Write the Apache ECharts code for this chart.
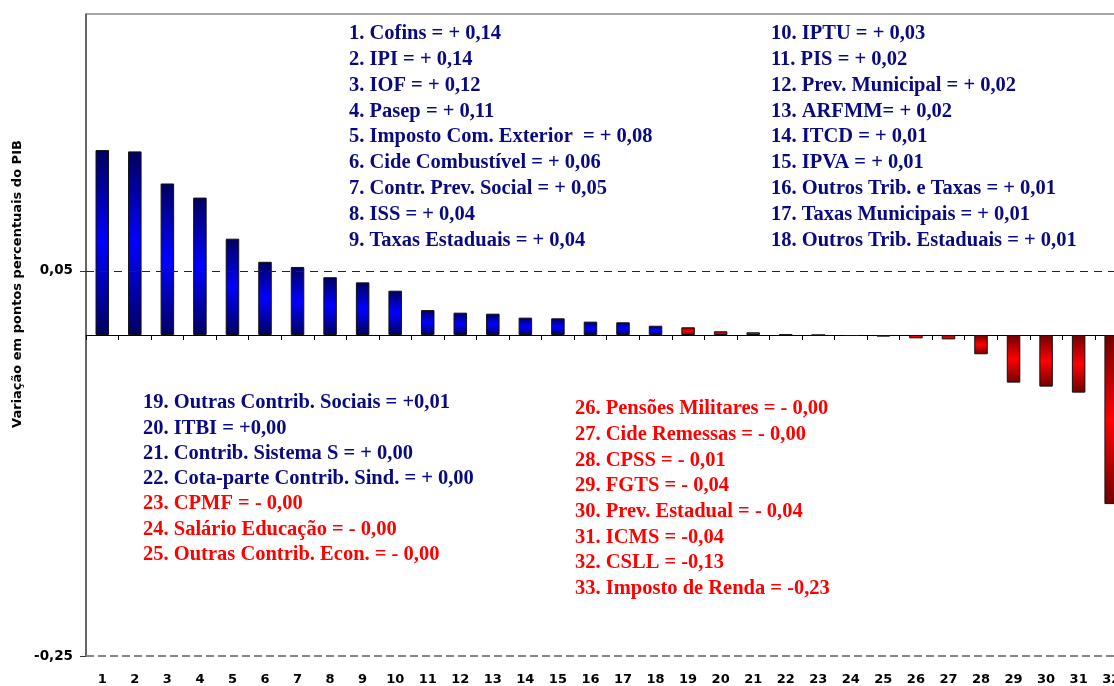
<!DOCTYPE html>
<html>
<head>
<meta charset="utf-8">
<script src="https://cdn.jsdelivr.net/npm/echarts@6/dist/echarts.min.js"></script>
<style>
html,body{margin:0;padding:0;background:#fff;}
#c{width:1114px;height:686px;}
</style>
</head>
<body>
<div id="c"></div>
<script>
// ---- data ----
const categories = ['1','2','3','4','5','6','7','8','9','10','11','12','13','14','15','16','17','18','19','20','21','22','23','24','25','26','27','28','29','30','31','32','33'];
const values = [0.144,0.143,0.118,0.107,0.075,0.057,0.053,0.045,0.041,0.0345,0.0194,0.0174,0.0166,0.0135,0.013,0.0104,0.0099,0.0072,0.006,0.0029,0.0021,0.0004,0,-0.0008,-0.0013,-0.0026,-0.0034,-0.015,-0.0371,-0.0402,-0.0449,-0.1317,-0.23];
const yTickValues = [-0.25, 0.05];
const notesTop1 = ['1. Cofins = + 0,14','2. IPI = + 0,14','3. IOF = + 0,12','4. Pasep = + 0,11','5. Imposto Com. Exterior  = + 0,08','6. Cide Combustível = + 0,06','7. Contr. Prev. Social = + 0,05','8. ISS = + 0,04','9. Taxas Estaduais = + 0,04'];
const notesTop2 = ['10. IPTU = + 0,03','11. PIS = + 0,02','12. Prev. Municipal = + 0,02','13. ARFMM= + 0,02','14. ITCD = + 0,01','15. IPVA = + 0,01','16. Outros Trib. e Taxas = + 0,01','17. Taxas Municipais = + 0,01','18. Outros Trib. Estaduais = + 0,01'];
const notesBottom1 = ['19. Outras Contrib. Sociais = +0,01','20. ITBI = +0,00','21. Contrib. Sistema S = + 0,00','22. Cota-parte Contrib. Sind. = + 0,00','23. CPMF = - 0,00','24. Salário Educação = - 0,00','25. Outras Contrib. Econ. = - 0,00'];
const notesBottom2 = ['26. Pensões Militares = - 0,00','27. Cide Remessas = - 0,00','28. CPSS = - 0,01','29. FGTS = - 0,04','30. Prev. Estadual = - 0,04','31. ICMS = -0,04','32. CSLL = -0,13','33. Imposto de Renda = -0,23'];
const yAxisTitle = 'Variação em pontos percentuais do PIB';

// ---- styles ----
const BLUE_COUNT = 18;      // bars 1..18 drawn blue, rest red
const NAVY_TEXT_MAX = 22;   // note items 1..22 navy, rest red
const navy = '#0a0a80', red = '#ff0000';
const blueGrad = new echarts.graphic.LinearGradient(0,0,0,1,[{offset:0,color:'#000060'},{offset:0.5,color:'#0000ff'},{offset:1,color:'#000060'}]);
const redGrad = new echarts.graphic.LinearGradient(0,0,0,1,[{offset:0,color:'#700000'},{offset:0.5,color:'#ff0000'},{offset:1,color:'#700000'}]);
const axisFont = '"DejaVu Sans", sans-serif';
const noteFont = '"Liberation Serif", "Times New Roman", serif';

function noteBlock(list, x, y0, step){
  return list.map((t,i)=>{
    const n = parseInt(t,10);
    return {type:'text', z:100, style:{text:t, x:x, y:y0+i*step, fill: n<=NAVY_TEXT_MAX?navy:red,
      fontFamily:noteFont, fontWeight:'bold', fontSize:20.5, verticalAlign:'middle', align:'left'}};
  });
}

const chart = echarts.init(document.getElementById('c'), null, {renderer:'canvas'});
chart.setOption({
  animation:false,
  backgroundColor:'#ffffff',
  grid:{left:86, top:14, width:1074, height:642, containLabel:false, outerBoundsMode:'none'},
  xAxis:[
    {type:'category', data:categories, position:'bottom',
      axisLine:{onZero:true, lineStyle:{color:'#000', width:1}},
      axisTick:{show:true, alignWithLabel:false, length:5, lineStyle:{color:'#000'}},
      axisLabel:{show:false},
      splitLine:{show:false}},
    {type:'category', data:categories, position:'bottom',
      axisLine:{show:false, onZero:false},
      axisTick:{show:false},
      axisLabel:{show:true, interval:0, margin:17, color:'#000', fontFamily:axisFont, fontWeight:'bold', fontSize:13},
      splitLine:{show:false}}
  ],
  yAxis:{type:'value', min:-0.25, max:0.25, interval:0.05,
    axisLine:{show:true, lineStyle:{color:'#333', width:1.5}},
    axisTick:{show:true, length:6, customValues:yTickValues, lineStyle:{color:'#333'}},
    axisLabel:{customValues:yTickValues, margin:13, color:'#000', fontFamily:axisFont, fontWeight:'bold', fontSize:13.5,
      formatter:v=>(Math.round(v*100)/100).toFixed(2).replace('.',',')},
    splitLine:{show:false}},
  series:[{type:'bar', barWidth:13.5, xAxisIndex:0,
    data:values.map((v,i)=>({value:v, itemStyle:{color: i<BLUE_COUNT?blueGrad:redGrad}})),
    itemStyle:{borderColor:'#111', borderWidth:1},
    markLine:{silent:true, symbol:'none', label:{show:false},
      data:[
        {yAxis:0.05, lineStyle:{color:'#222', width:1, type:[8,6]}},
        {yAxis:-0.25, lineStyle:{color:'#888', width:2, type:[8,4]}},
        {yAxis:0.25, lineStyle:{color:'#888', width:1.5, type:'solid'}}
      ]}
  }],
  graphic:[
    {type:'text', z:100, rotation:Math.PI/2, x:18, y:284,
      style:{text:yAxisTitle, fill:'#000', fontFamily:axisFont, fontWeight:'bold', fontSize:13, align:'center', verticalAlign:'middle'}},
    ...noteBlock(notesTop1, 349, 34, 25.8),
    ...noteBlock(notesTop2, 771, 34, 25.8),
    ...noteBlock(notesBottom1, 143, 403, 25.3),
    ...noteBlock(notesBottom2, 575, 409, 25.7)
  ]
});
</script>
</body>
</html>
